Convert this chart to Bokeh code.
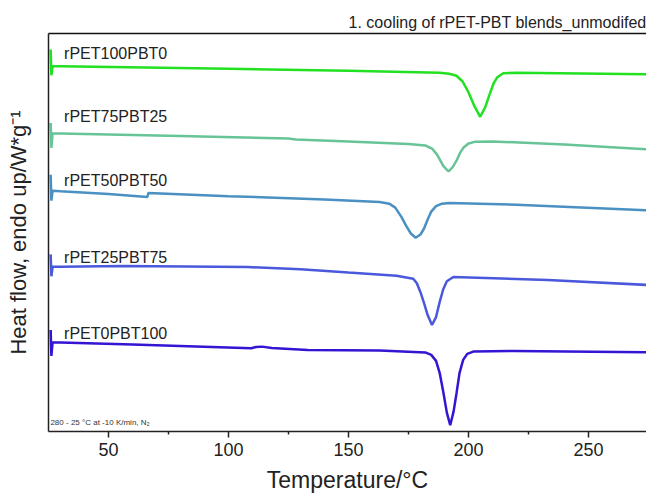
from bokeh.plotting import figure
from bokeh.models import FixedTicker, LinearAxis, Label, Range1d, ColumnDataSource
from bokeh.core.properties import value
from bokeh.embed import file_html
from bokeh.resources import INLINE

# ---- data (heat flow, vertically offset, arbitrary units) ----
names = ["rPET100PBT0", "rPET75PBT25", "rPET50PBT50", "rPET25PBT75", "rPET0PBT100"]
colors = ["#22e022", "#66c497", "#4a90c2", "#4a58dc", "#3514d4"]

T_100_0 = [25.9, 26.2, 26.7, 30, 100, 150, 188, 192, 195, 197.5, 200, 202.5, 204.9, 207, 209, 210.5, 212, 214.5, 220, 274.5]
HF_100_0 = [38.4, 35.8, 36.7, 36.7, 36.45, 36.25, 36.05, 35.95, 35.75, 35.2, 34.1, 32.7, 31.63, 32.6, 34.0, 35.0, 35.6, 36.0, 36.05, 35.9]

T_75_25 = [25.9, 26.2, 26.7, 30, 80, 125, 128, 150, 175, 182, 185, 187, 189.5, 191.7, 193.5, 195.2, 196.5, 198, 200, 203, 210, 240, 274.5]
HF_75_25 = [31.0, 28.5, 29.95, 29.95, 29.7, 29.45, 29.35, 29.15, 28.9, 28.75, 28.4, 27.8, 26.7, 26.13, 26.6, 27.3, 28.0, 28.55, 28.95, 29.13, 29.15, 28.85, 28.35]

T_50_50 = [25.9, 26.2, 26.7, 30, 50, 66.2, 66.6, 100, 140, 163, 167, 169.5, 172, 174, 176, 178, 180, 181.5, 183, 184.5, 186.5, 189, 192, 220, 274.5]
HF_50_50 = [25.8, 23.2, 24.2, 24.15, 23.87, 23.57, 23.97, 23.65, 23.32, 23.07, 22.9, 22.5, 21.6, 20.7, 19.9, 19.47, 19.8, 20.4, 21.3, 22.1, 22.65, 22.9, 22.97, 22.8, 22.23]

T_25_75 = [25.9, 26.2, 26.7, 30, 56, 108, 130, 150, 170, 177, 178.5, 180, 181.5, 183, 184.8, 186.5, 188, 189.5, 191, 193.7, 233, 274.5]
HF_25_75 = [17.8, 15.6, 16.55, 16.57, 16.63, 16.53, 16.3, 15.97, 15.65, 15.35, 14.9, 14.0, 12.9, 11.7, 10.7, 11.5, 13.0, 14.3, 15.1, 15.53, 15.23, 14.73]

T_0_100 = [25.9, 26.2, 26.7, 30, 60, 109.5, 111.5, 114, 118, 133, 163, 182, 184.5, 186.5, 188, 189.5, 191, 192.4, 193.8, 195, 196.3, 197.8, 199.5, 202, 219, 274.5]
HF_0_100 = [10.2, 7.6, 8.95, 8.95, 8.75, 8.37, 8.5, 8.53, 8.4, 8.2, 8.13, 7.95, 7.7, 7.1, 5.9, 4.0, 1.9, 0.63, 2.0, 3.8, 5.9, 7.2, 7.8, 8.03, 8.1, 7.97]

temps = [T_100_0, T_75_25, T_50_50, T_25_75, T_0_100]
flows = [HF_100_0, HF_75_25, HF_50_50, HF_25_75, HF_0_100]

label_x = 31.5
label_y = [37.97, 31.63, 25.23, 17.47, 9.8]

x_ticks = [50, 100, 150, 200, 250]
x_minor = [75, 125, 175, 225, 275]

title_text = "1. cooling of rPET-PBT blends_unmodifed"
note_text = "280 - 25 \u00b0C at -10 K/min, N\u2082"

FONT = "Liberation Sans"
INK = "#222222"

p = figure(width=646, height=495, output_backend="svg", toolbar_location=None,
           x_range=Range1d(25, 274.2), y_range=Range1d(0, 40),
           min_border_left=48, min_border_right=0, min_border_top=33, min_border_bottom=62)
p.background_fill_color = "white"
p.border_fill_color = "white"
p.outline_line_color = None
p.grid.visible = False

p.title.text = title_text
p.title.align = "right"
p.title.text_font = FONT
p.title.text_font_size = "16px"
p.title.text_font_style = "normal"
p.title.text_color = INK
p.title.standoff = 6
p.title.offset = 0

for t, hf, c in zip(temps, flows, colors):
    p.line(t, hf, line_color=c, line_width=2.5)

src = ColumnDataSource(dict(x=[label_x] * len(names), y=label_y, text=names))
p.text(x="x", y="y", text="text", source=src, text_font=value(FONT),
       text_font_size="16px", text_color=INK, text_baseline="middle", text_align="left")

p.add_layout(Label(x=25.8, y=0.95, text=note_text, text_font=FONT, text_font_size="8px",
                   text_color="#333333", text_baseline="middle"))

xa = p.xaxis[0]
xa.ticker = FixedTicker(ticks=x_ticks, minor_ticks=x_minor)
xa.axis_label = "Temperature/\u00b0C"
xa.axis_label_text_font = FONT
xa.axis_label_text_font_size = "23px"
xa.axis_label_text_font_style = "normal"
xa.axis_label_text_color = INK
xa.axis_label_standoff = 8
xa.major_label_text_font = FONT
xa.major_label_text_font_size = "18px"
xa.major_label_text_color = INK
xa.major_label_standoff = 5
xa.axis_line_color = INK
xa.axis_line_width = 1.5
xa.major_tick_in = 0
xa.major_tick_out = 6
xa.minor_tick_in = 0
xa.minor_tick_out = 3
xa.major_tick_line_color = INK
xa.minor_tick_line_color = INK
xa.major_tick_line_width = 1.5
xa.minor_tick_line_width = 1.5

ya = p.yaxis[0]
ya.ticker = FixedTicker(ticks=[])
ya.major_label_text_font_size = "0px"
ya.major_tick_line_color = None
ya.minor_tick_line_color = None
ya.major_tick_out = 0
ya.major_label_standoff = 0
ya.axis_label = "Heat flow, endo up/W*g\u207b\u00b9"
ya.axis_label_text_font = FONT
ya.axis_label_text_font_size = "22px"
ya.axis_label_text_font_style = "normal"
ya.axis_label_text_color = INK
ya.axis_label_standoff = 18
ya.axis_line_color = INK
ya.axis_line_width = 1.5

top = LinearAxis(ticker=FixedTicker(ticks=[]), major_label_text_font_size="0px",
                 major_tick_line_color=None, minor_tick_line_color=None,
                 major_tick_out=0, minor_tick_out=0, major_label_standoff=0,
                 axis_line_color="#111111", axis_line_width=1.5)
p.add_layout(top, "above")

open("out.html", "w").write(file_html(p, INLINE))
